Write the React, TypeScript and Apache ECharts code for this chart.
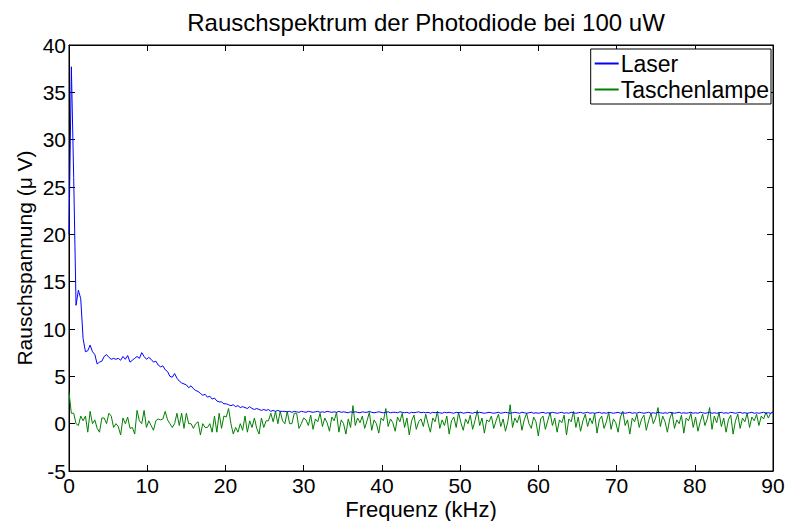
import React, { useEffect, useRef } from "react";
import * as echarts from "echarts";

const titleText = "Rauschspektrum der Photodiode bei 100 uW";
const xName = "Frequenz (kHz)";
const yName = "Rauschspannung (\u03bc V)";
const seriesNames = ["Laser", "Taschenlampe"];
const freqStep = 0.3; // kHz between samples

const laser = [
  20, 37.7, 26, 12.5, 14.1, 13.2, 9.0, 7.6, 7.7, 8.3,
  7.6, 7.3, 6.3, 6.5, 6.6, 7.1, 7.3, 7.0, 6.8, 6.9,
  6.8, 6.9, 6.7, 7.1, 6.8, 7.2, 6.5, 6.7, 6.9, 7.1,
  6.9, 7.5, 7.1, 6.8, 7.0, 6.8, 6.5, 6.6, 6.2, 6.0,
  6.1, 5.7, 5.5, 5.0, 4.9, 5.3, 4.8, 4.5, 4.3, 4.2,
  4.1, 3.8, 4.0, 3.7, 3.5, 3.4, 3.2, 3.0, 3.1, 2.8,
  2.9, 2.6, 2.7, 2.4, 2.3, 2.3, 2.1, 2.1, 2.0, 1.9,
  2.0, 1.8, 1.9, 1.7, 1.8, 1.7, 1.6, 1.8, 1.6, 1.5,
  1.6, 1.5, 1.4, 1.5, 1.4, 1.5, 1.3, 1.4, 1.3, 1.4,
  1.3, 1.3, 1.3, 1.25, 1.3, 1.2, 1.3, 1.25, 1.2, 1.3,
  1.25, 1.2, 1.3, 1.25, 1.2, 1.25, 1.3, 1.2, 1.25, 1.2,
  1.3, 1.25, 1.2, 1.25, 1.2, 1.3, 1.2, 1.25, 1.2, 1.15,
  1.25, 1.2, 1.25, 1.2, 1.15, 1.25, 1.2, 1.2, 1.3, 1.2,
  1.15, 1.2, 1.25, 1.2, 1.15, 1.2, 1.25, 1.15, 1.2, 1.2,
  1.15, 1.25, 1.2, 1.15, 1.2, 1.1, 1.2, 1.15, 1.2, 1.25,
  1.15, 1.2, 1.15, 1.2, 1.1, 1.2, 1.15, 1.2, 1.15, 1.1,
  1.2, 1.15, 1.2, 1.15, 1.1, 1.2, 1.15, 1.2, 1.1, 1.15,
  1.2, 1.15, 1.1, 1.2, 1.15, 1.2, 1.15, 1.1, 1.15, 1.2,
  1.15, 1.1, 1.15, 1.2, 1.1, 1.15, 1.2, 1.15, 1.1, 1.15,
  1.2, 1.15, 1.1, 1.2, 1.15, 1.1, 1.15, 1.2, 1.1, 1.15,
  1.1, 1.15, 1.2, 1.1, 1.15, 1.1, 1.2, 1.15, 1.1, 1.15,
  1.2, 1.1, 1.15, 1.1, 1.2, 1.15, 1.1, 1.15, 1.2, 1.1,
  1.15, 1.2, 1.1, 1.15, 1.1, 1.15, 1.2, 1.1, 1.15, 1.1,
  1.2, 1.15, 1.1, 1.15, 1.2, 1.1, 1.15, 1.1, 1.15, 1.2,
  1.1, 1.15, 1.1, 1.2, 1.15, 1.1, 1.15, 1.2, 1.1, 1.15,
  1.1, 1.2, 1.15, 1.1, 1.15, 1.1, 1.2, 1.15, 1.1, 1.15,
  1.2, 1.1, 1.15, 1.1, 1.15, 1.2, 1.1, 1.15, 1.1, 1.2,
  1.15, 1.1, 1.15, 1.2, 1.1, 1.15, 1.1, 1.15, 1.2, 1.1,
  1.15, 1.1, 1.2, 1.15, 1.1, 1.15, 1.2, 1.1, 1.15, 1.1,
  1.15, 1.2, 1.1, 1.15, 1.1, 1.15, 1.2, 1.1, 1.15, 1.1,
  1.2, 1.1, 1.15, 1.1, 1.15, 1.2, 1.1, 1.25, 1.4, 1.3,
  1.3,
];

const taschenlampe = [
  3.3, 1.1, 1.1, 0.0, -0.2, 0.8, 0.3, 0.8, -0.9, 1.3,
  0.0, 0.4, -0.5, -0.9, 0.6, 0.6, 0.0, 1.1, 0.8, -0.4,
  0.0, -0.3, -1.2, 0.6, 0.0, 0.7, -0.5, -0.4, -1.1, 1.4,
  0.3, 0.0, 1.4, -0.4, 0.3, -0.2, -0.7, 0.3, 0.5, 0.4,
  0.5, 1.3, 0.4, 0.0, -0.4, 0.0, 1.1, -0.2, 1.1, -0.5,
  1.1, 0.0, 0.0, -0.5, 0.0, 0.2, -1.2, 0.0, -0.4, -0.4,
  0.0, -0.9, 0.8, -0.9, 1.1, -0.5, 0.8, 0.7, 1.6, 0.0,
  -1.1, -0.4, -0.9, 0.0, -0.7, 0.8, -0.9, 0.3, -0.4, 0.6,
  -0.5, -1.1, 0.6, -0.4, 0.3, 0.3, 1.1, 0.2, 1.3, 0.0,
  1.3, 0.3, 0.0, 1.3, 0.0, 0.0, 1.1, 1.1, -0.5, 0.0,
  0.6, 0.4, -0.2, 0.9, -0.6, 0.5, 0.2, 1.1, -0.3, 0.6,
  0.1, -0.8, 0.7, 0.3, 1.2, -0.9, 0.4, 0.0, -1.1, 0.5,
  -0.4, 1.9, -0.2, 0.6, 0.1, 0.8, -0.5, 0.3, 1.2, -0.7,
  0.4, 0.0, -1.0, 0.6, 0.3, 1.6, -0.3, 0.5, 0.1, -0.8,
  0.7, 0.2, 1.1, -0.4, 0.6, -1.2, 0.3, 0.9, -0.6, 0.2,
  0.5, -0.3, 1.0, 0.0, -0.9, 0.6, 0.2, 1.3, -0.5, 0.4,
  -0.2, 0.8, -1.1, 0.3, 0.7, -0.4, 1.2, 0.1, -0.7, 0.5,
  0.0, 0.9, -0.6, 0.3, 1.4, -0.2, 0.6, -1.0, 0.4, 0.2,
  0.8, -0.5, 0.3, 1.0, -0.3, 0.5, -0.8, 0.2, 2.0, -0.4,
  0.6, 0.1, 0.9, -0.7, 0.4, 1.1, 0.0, -0.5, 0.7, 0.2,
  -1.3, 0.5, 0.8, -0.6, 0.3, 1.2, -0.2, 0.6, -0.9, 0.4,
  0.1, 0.9, -1.2, 0.5, 0.2, 1.3, -0.4, 0.7, -0.8, 0.3,
  1.0, -0.3, 0.6, 0.0, 1.1, -1.0, 0.4, 0.8, -0.5, 0.2,
  1.2, -0.6, 0.5, 0.1, -0.9, 0.7, 1.3, -0.2, 0.4, -1.1,
  0.6, 0.2, 1.0, -0.4, 0.5, 0.9, -0.7, 0.3, 1.1, 0.0,
  0.6, 1.7, -0.3, 0.8, 0.2, -0.9, 0.5, 1.2, -0.5, 0.4,
  0.0, 0.9, -1.0, 0.6, 0.3, 1.1, -0.4, 0.7, -0.8, 0.2,
  1.0, -0.2, 0.5, 1.7, -0.6, 0.8, 0.1, 1.2, -0.3, 0.6,
  -0.9, 0.4, 0.9, -1.1, 0.3, 1.0, -0.5, 0.6, 0.2, 1.1,
  -0.4, 0.7, 0.3, 1.0, -0.2, 0.8, 0.5, 1.2, 0.6, 1.1,
  1.3,
];

const xTicks = [0, 10, 20, 30, 40, 50, 60, 70, 80, 90];
const yTicks = [-5, 0, 5, 10, 15, 20, 25, 30, 35, 40];
const seriesColors = ["#0000ff", "#008000"];

const FONT = "'Liberation Sans', Arial, Helvetica, sans-serif";

export default function App() {
  const ref = useRef<HTMLDivElement>(null);
  useEffect(() => {
    if (!ref.current) return;
    const chart = echarts.init(ref.current, undefined, { renderer: "svg" });
    const toPairs = (arr: number[]) => arr.map((v, i) => [+(i * freqStep).toFixed(2), v]);
    const xMin = xTicks[0];
    const xMax = xTicks[xTicks.length - 1];
    const yMin = yTicks[0];
    const yMax = yTicks[yTicks.length - 1];
    const xInt = xTicks[1] - xTicks[0];
    const yInt = yTicks[1] - yTicks[0];
    const tick = { show: true, inside: true, length: 6, lineStyle: { color: "#000", width: 1 } };
    chart.setOption({
      animation: false,
      backgroundColor: "#fff",
      textStyle: { fontFamily: FONT, color: "#000" },
      title: {
        text: titleText,
        left: 421,
        textAlign: "center",
        top: 5,
        textStyle: { fontFamily: FONT, fontSize: 24, fontWeight: "normal", color: "#000" },
      },
      grid: {
        left: 69,
        right: 12,
        top: 45,
        bottom: 50,
        outerBoundsMode: "none",
        containLabel: false,
        show: true,
        borderColor: "#000",
        borderWidth: 1,
        backgroundColor: "#fff",
      },
      legend: {
        orient: "vertical",
        right: 14,
        top: 49,
        icon: "rect",
        itemWidth: 24,
        itemHeight: 2,
        itemGap: 3,
        padding: [3, 2, 3, 4],
        backgroundColor: "#fff",
        borderColor: "#000",
        borderWidth: 1,
        borderRadius: 0,
        itemStyle: { borderWidth: 0 },
        textStyle: { fontFamily: FONT, fontSize: 23, color: "#000", padding: [0, 0, 0, -3] },
        data: seriesNames.map((name, k) => ({
          name,
          itemStyle: { color: seriesColors[k], borderWidth: 0 },
        })),
      },
      xAxis: [
        {
          type: "value",
          position: "bottom",
          min: xMin,
          max: xMax,
          interval: xInt,
          name: xName,
          nameLocation: "middle",
          nameGap: 27,
          nameMoveOverlap: false,
          nameTextStyle: { fontFamily: FONT, fontSize: 22, color: "#000" },
          axisLine: { show: true, onZero: false, lineStyle: { color: "#000" } },
          axisTick: tick,
          axisLabel: { fontFamily: FONT, fontSize: 21, color: "#000", margin: 4 },
          splitLine: { show: false },
        },
        {
          type: "value",
          position: "top",
          min: xMin,
          max: xMax,
          interval: xInt,
          axisLine: { show: true, onZero: false, lineStyle: { color: "#000" } },
          axisTick: tick,
          axisLabel: { show: false },
          splitLine: { show: false },
        },
      ],
      yAxis: [
        {
          type: "value",
          position: "left",
          min: yMin,
          max: yMax,
          interval: yInt,
          name: yName,
          nameLocation: "middle",
          nameGap: 34,
          nameMoveOverlap: false,
          nameTextStyle: { fontFamily: FONT, fontSize: 21, color: "#000" },
          axisLine: { show: true, onZero: false, lineStyle: { color: "#000" } },
          axisTick: tick,
          axisLabel: { fontFamily: FONT, fontSize: 21, color: "#000", margin: 3 },
          splitLine: { show: false },
        },
        {
          type: "value",
          position: "right",
          min: yMin,
          max: yMax,
          interval: yInt,
          axisLine: { show: true, onZero: false, lineStyle: { color: "#000" } },
          axisTick: tick,
          axisLabel: { show: false },
          splitLine: { show: false },
        },
      ],
      series: seriesNames.map((name, k) => ({
        name,
        type: "line",
        data: toPairs(k === 0 ? laser : taschenlampe),
        showSymbol: false,
        symbol: "none",
        lineStyle: { color: seriesColors[k], width: 1 },
        itemStyle: { color: seriesColors[k] },
        z: 3 - k,
      })),
    });
    return () => chart.dispose();
  }, []);
  return <div ref={ref} style={{ width: 785, height: 521, position: "absolute", left: 0, top: 0 }} />;
}
